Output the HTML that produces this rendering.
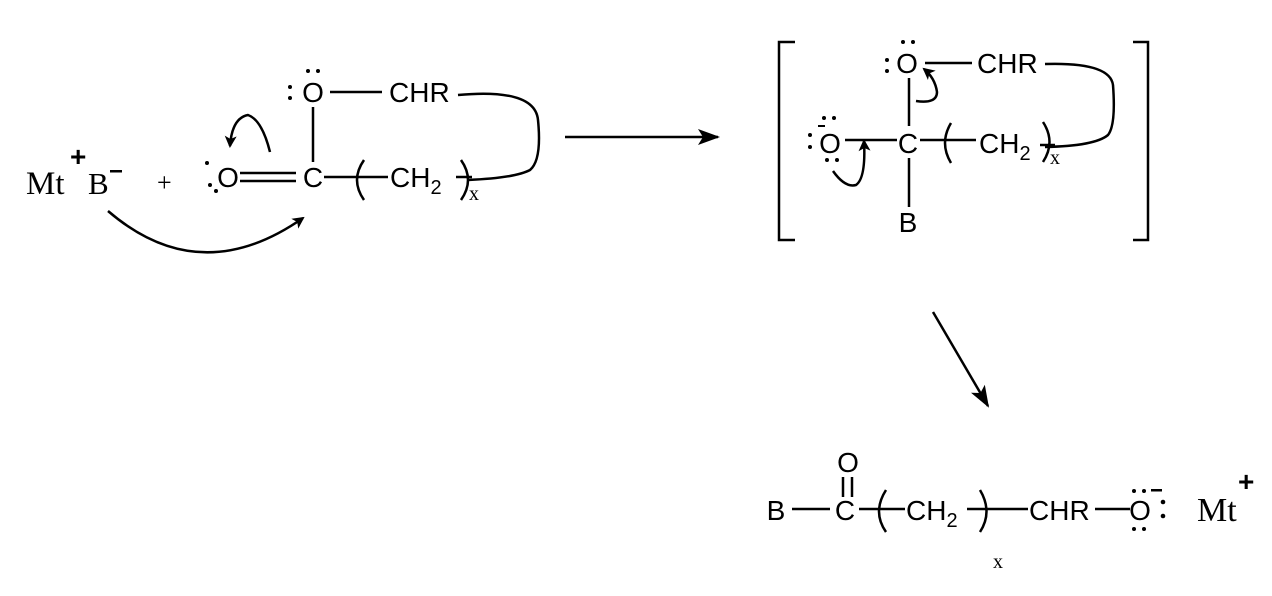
<!DOCTYPE html>
<html><head><style>body{margin:0;background:#fff}svg{display:block}
.s{font-family:"Liberation Sans",sans-serif;font-size:28px}
.r{font-family:"Liberation Serif",serif}
</style></head><body>
<svg width="1272" height="596" viewBox="0 0 1272 596" xmlns="http://www.w3.org/2000/svg">
<defs><marker id="a" markerWidth="12" markerHeight="12" refX="10" refY="6" orient="auto" markerUnits="userSpaceOnUse"><path d="M0,0 L12,6 L0,12 L3,6z" fill="#000"/></marker>
<marker id="b" markerWidth="22" markerHeight="16" refX="20" refY="8" orient="auto" markerUnits="userSpaceOnUse"><path d="M0,0 L22,8 L0,16 L5,8z" fill="#000"/></marker></defs>
<g fill="none" stroke="#000" stroke-width="2.5">
<!-- left -->
<line x1="240" y1="173" x2="296" y2="173"/><line x1="240" y1="181" x2="296" y2="181"/>
<line x1="324" y1="177" x2="388" y2="177"/>
<path d="M364,160 Q350,180 364,200"/>
<line x1="456" y1="177" x2="472" y2="177"/>
<path d="M461,160 Q475,180 461,200"/>
<line x1="313" y1="107" x2="313" y2="162"/>
<line x1="330" y1="92" x2="382" y2="92"/>
<path d="M458,95 Q535,88 538,120 Q542,160 530,170 Q515,178 468,180"/>
<path d="M270,152 Q262,120 248,115 Q232,118 230,146" marker-end="url(#a)"/>
<path d="M108,211 Q200,290 303,218" marker-end="url(#a)"/>
<line x1="565" y1="137" x2="718" y2="137" marker-end="url(#b)"/>
<!-- bracket -->
<path d="M795,42 L779,42 L779,240 L795,240"/>
<path d="M1133,42 L1148,42 L1148,240 L1133,240"/>
<line x1="925" y1="63" x2="972" y2="63"/>
<path d="M1045,64 Q1110,62 1113,85 Q1116,125 1108,135 Q1095,146 1045,147"/>
<line x1="909" y1="78" x2="909" y2="126"/>
<line x1="845" y1="140" x2="897" y2="140"/>
<line x1="920" y1="140" x2="976" y2="140"/>
<path d="M951,123 Q939,143 951,163"/>
<line x1="1040" y1="145" x2="1055" y2="145"/>
<path d="M1043,122 Q1056,142 1043,162"/>
<line x1="909" y1="158" x2="909" y2="207"/>
<path d="M916,101 Q937,104 937,92 Q935,78 924,69" marker-end="url(#a)"/>
<path d="M833,171 Q845,188 856,185 Q866,178 864,141" marker-end="url(#a)"/>
<line x1="933" y1="312" x2="988" y2="406" marker-end="url(#b)"/>
<!-- bottom -->
<line x1="792" y1="509" x2="830" y2="509"/>
<line x1="843" y1="477" x2="843" y2="497"/><line x1="852" y1="477" x2="852" y2="497"/>
<line x1="859" y1="509" x2="905" y2="509"/>
<path d="M886,490 Q872,512 886,532"/>
<line x1="967" y1="509" x2="1028" y2="509"/>
<path d="M980,490 Q993,512 980,532"/>
<line x1="1095" y1="509" x2="1130" y2="509"/>
</g>
<g fill="#000">
<text x="26" y="194" class="r" font-size="33">Mt</text>
<text x="70" y="166" class="s" font-size="22" font-weight="bold">+</text>
<text x="88" y="194" class="r" font-size="31">B</text>
<rect x="110" y="170" width="12" height="2.5"/>
<text x="157" y="191" class="r" font-size="26">+</text>
<circle cx="207" cy="163" r="2"/><circle cx="210" cy="185" r="2"/><circle cx="216" cy="191" r="2"/>
<text x="228" y="187" class="s" text-anchor="middle">O</text>
<text x="313" y="187" class="s" text-anchor="middle">C</text>
<text x="390" y="187" class="s">CH<tspan font-size="20" dy="7">2</tspan></text>
<text x="469" y="200" class="r" font-size="20">x</text>
<circle cx="290" cy="87" r="2"/><circle cx="290" cy="98" r="2"/>
<circle cx="308" cy="71" r="2"/><circle cx="318" cy="71" r="2"/>
<text x="313" y="102" class="s" text-anchor="middle">O</text>
<text x="389" y="102" class="s">CHR</text>
<circle cx="887" cy="60" r="2"/><circle cx="887" cy="71" r="2"/>
<circle cx="903" cy="42" r="2"/><circle cx="913" cy="42" r="2"/>
<text x="907" y="73" class="s" text-anchor="middle">O</text>
<text x="977" y="73" class="s">CHR</text>
<text x="908" y="153" class="s" text-anchor="middle">C</text>
<text x="979" y="153" class="s">CH<tspan font-size="20" dy="7">2</tspan></text>
<text x="1050" y="164" class="r" font-size="20">x</text>
<text x="908" y="232" class="s" text-anchor="middle">B</text>
<text x="830" y="153" class="s" text-anchor="middle">O</text>
<rect x="818" y="125" width="7" height="2"/>
<circle cx="810" cy="135" r="2"/><circle cx="810" cy="147" r="2"/>
<circle cx="824" cy="118" r="2"/><circle cx="834" cy="118" r="2"/>
<circle cx="827" cy="160" r="2"/><circle cx="837" cy="160" r="2"/>
<text x="776" y="520" class="s" text-anchor="middle">B</text>
<text x="845" y="520" class="s" text-anchor="middle">C</text>
<text x="848" y="472" class="s" text-anchor="middle">O</text>
<text x="906" y="520" class="s">CH<tspan font-size="20" dy="7">2</tspan></text>
<text x="993" y="568" class="r" font-size="20">x</text>
<text x="1029" y="520" class="s">CHR</text>
<text x="1140" y="520" class="s" text-anchor="middle">O</text>
<circle cx="1134" cy="491" r="2"/><circle cx="1144" cy="491" r="2"/>
<rect x="1151" y="489" width="11" height="2.5"/>
<circle cx="1134" cy="529" r="2"/><circle cx="1144" cy="529" r="2"/>
<circle cx="1163" cy="502" r="2.3"/><circle cx="1163" cy="516" r="2.3"/>
<text x="1197" y="521" class="r" font-size="34">Mt</text>
<text x="1238" y="491" class="s" font-size="22" font-weight="bold">+</text>
</g>
</svg>
</body></html>
